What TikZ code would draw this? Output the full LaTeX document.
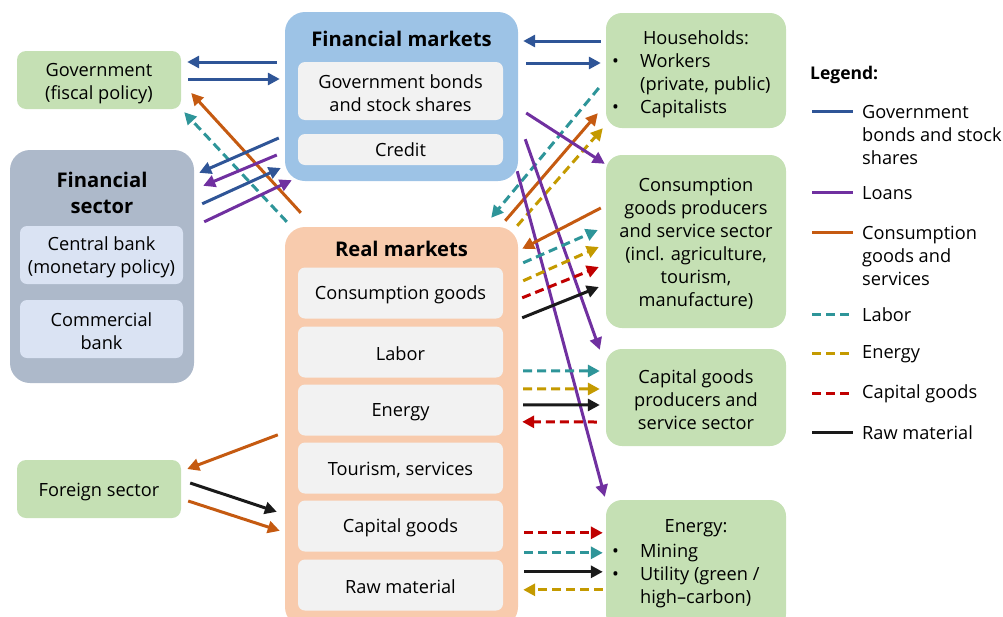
\documentclass[tikz,border=0pt]{standalone}
\usepackage{fontspec}
\setmainfont{Open Sans}
\usetikzlibrary{arrows.meta,calc}
\definecolor{cgreen}{HTML}{C5E0B4}
\definecolor{cblue}{HTML}{9DC3E6}
\definecolor{cgray}{HTML}{ADB9CA}
\definecolor{cpeach}{HTML}{F8CBAD}
\definecolor{cinner}{HTML}{F2F2F2}
\definecolor{cinnerb}{HTML}{DAE3F3}
\definecolor{lblue}{HTML}{2F5597}
\definecolor{lpurple}{HTML}{7030A0}
\definecolor{lorange}{HTML}{C55A11}
\definecolor{lteal}{HTML}{2E9599}
\definecolor{lgold}{HTML}{C49A00}
\definecolor{lred}{HTML}{C00000}
\definecolor{lblack}{HTML}{1A1A1A}
\newcommand{\txt}{\fontsize{18.2}{23}\selectfont}
\newcommand{\ttl}{\fontsize{20.2}{26}\selectfont\bfseries}
\tikzset{
  box/.style={rounded corners=9pt, inner sep=0pt, align=center, font=\txt},
  outer/.style={rounded corners=20pt, inner sep=0pt},
  greenbox/.style={box, fill=cgreen},
  innerbox/.style={box, fill=cinner, rounded corners=7pt, minimum width=205pt},
  innerfs/.style={box, fill=cinnerb, rounded corners=7pt, minimum width=163pt, minimum height=58pt},
  titlenode/.style={font=\ttl, align=center, inner sep=0pt},
  plain/.style={font=\txt, align=left, inner sep=0pt},
  flow/.style={line width=3pt, -{Triangle[length=12pt,width=12pt]}},
  dsh/.style={dash pattern=on 9pt off 5pt},
  bond/.style={flow, draw=lblue},
  loan/.style={flow, draw=lpurple},
  cons/.style={flow, draw=lorange},
  labor/.style={flow, draw=lteal, dsh},
  energy/.style={flow, draw=lgold, dsh},
  capg/.style={flow, draw=lred, dsh},
  raw/.style={flow, draw=lblack},
  legline/.style={line width=3pt},
}
\begin{document}
\begin{tikzpicture}[x=1pt,y=-1pt]
\useasboundingbox (0,0) rectangle (1003,616);
% Containers
\node[outer, fill=cblue, minimum width=233pt, minimum height=169pt] (fm) at (401.5,96.5) {};
\node[outer, fill=cgray, minimum width=184pt, minimum height=233pt] (fs) at (102,266.5) {};
\node[outer, fill=cpeach, minimum width=233pt, minimum height=400pt] (rm) at (401.5,427) {};
% Financial markets
\node[titlenode] (fmt) at (401.5,39) {Financial markets};
\node[innerbox, minimum height=58pt] (fmb) at (400.5,91) {};
\node[plain, align=center] (fmbt) at (400.5,93.5) {Government bonds\\and stock shares};
\node[innerbox, minimum height=31pt] (fmc) at (400.5,149.5) {Credit};
% Financial sector
\node[titlenode] (fst) at (102,193) {Financial\\sector};
\node[innerfs] (fscb) at (101.5,255) {};
\node[plain, align=center] (fscbt) at (101.5,257.5) {Central bank\\(monetary policy)};
\node[innerfs] (fscm) at (101.5,329) {};
\node[plain, align=center] (fscmt) at (101.5,331) {Commercial\\bank};
% Real markets
\node[titlenode] (rmt) at (401.5,249) {Real markets};
\node[innerbox, minimum height=51pt] (rm1) at (400.5,293) {};
\node[plain] (rm1t) at (400.5,295) {Consumption goods};
\node[innerbox, minimum height=51pt] (rm2) at (400.5,352) {};
\node[plain] (rm2t) at (400.5,353.5) {Labor};
\node[innerbox, minimum height=51pt] (rm3) at (400.5,410) {};
\node[plain] (rm3t) at (400.5,412) {Energy};
\node[innerbox, minimum height=51pt] (rm4) at (400.5,468) {};
\node[plain] (rm4t) at (400.5,470) {Tourism, services};
\node[innerbox, minimum height=51pt] (rm5) at (400.5,526) {};
\node[plain] (rm5t) at (400.5,528) {Capital goods};
\node[innerbox, minimum height=51pt] (rm6) at (400.5,585) {};
\node[plain] (rm6t) at (400.5,587) {Raw material};
% Green boxes
\node[greenbox, minimum width=164pt, minimum height=58pt] (gov) at (99,80) {};
\node[plain, align=center] (govt) at (99,83.5) {Government\\(fiscal policy)};
\node[greenbox, minimum width=164pt, minimum height=58pt] (fo) at (99,489) {};
\node[plain] (fot) at (99,492) {Foreign sector};
\node[greenbox, rounded corners=16pt, minimum width=180pt, minimum height=115pt] (hh) at (696,70.5) {};
\node[plain, align=center] (hht) at (696,38) {Households:};
\node[plain, anchor=west] (hhl) at (612,86) {\makebox[28pt][l]{•}Workers\\\hspace*{28pt}(private, public)\\\makebox[28pt][l]{•}Capitalists};
\node[greenbox, rounded corners=16pt, minimum width=180pt, minimum height=173pt] (cp) at (696,241.5) {};
\node[plain, align=center] (cpt) at (696,244) {Consumption\\goods producers\\and service sector\\(incl. agriculture,\\tourism,\\manufacture)};
\node[greenbox, rounded corners=16pt, minimum width=180pt, minimum height=97pt] (cap) at (696,397.5) {};
\node[plain, align=center] (capt) at (696,400) {Capital goods\\producers and\\service sector};
\node[greenbox, rounded corners=16pt, minimum width=180pt, minimum height=130pt] (en) at (696,565) {};
\node[plain, align=center] (ent) at (696,528) {Energy:};
\node[plain, anchor=west] (enl) at (612,576) {\makebox[28pt][l]{•}Mining\\\makebox[28pt][l]{•}Utility (green /\\\hspace*{28pt}high--carbon)};
% Government <-> Financial markets
\draw[bond] ([shift={(-8,-34.5)}]fm.west) -- ([shift={(6,-18)}]gov.east);
\draw[bond] ([shift={(7,-1)}]gov.east) -- ([shift={(-5,-17.5)}]fm.west);
\draw[cons] ([shift={(16,-14)}]rm.north west) -- ([shift={(10,13)}]gov.east);
\draw[labor] ([shift={(2,-5)}]rm.north west) -- ([shift={(3,3)}]gov.south east);
% Financial sector <-> Financial markets
\draw[bond] ([shift={(-6,41.5)}]fm.west) -- ([shift={(5,23)}]fs.north east);
\draw[loan] ([shift={(-8,58.5)}]fm.west) -- ([shift={(9,36)}]fs.north east);
\draw[bond] ([shift={(8,54)}]fs.north east) -- ([shift={(-4,71.5)}]fm.west);
\draw[loan] ([shift={(10,72)}]fs.north east) -- ([shift={(7,-1)}]fm.south west);
% Households
\draw[bond] ([shift={(-5,-29.5)}]hh.west) -- ([shift={(5,-55.5)}]fm.east);
\draw[bond] ([shift={(8,-33.5)}]fm.east) -- ([shift={(-5,-7.5)}]hh.west);
\draw[labor] ([shift={(-7,17.5)}]hh.west) -- ([shift={(-27,-9)}]rm.north east);
\draw[cons] ([shift={(-13,-6)}]rm.north east) -- ([shift={(-8,-15)}]hh.south west);
\draw[energy] ([shift={(-1,-1)}]rm.north east) -- ([shift={(-3,0)}]hh.south west);
% Loans from financial markets
\draw[loan] ([shift={(8,16.5)}]fm.east) -- ([shift={(-1,9)}]cp.north west);
\draw[loan] ([shift={(7,-42)}]fm.south east) -- ([shift={(-6,1)}]cap.north west);
\draw[loan] ([shift={(-1,-10)}]fm.south east) -- ([shift={(-1,-3)}]en.north west);
% Consumption goods producers
\draw[cons] ([shift={(-5,-33.5)}]cp.west) -- ([shift={(4,22)}]rm.north east);
\draw[labor] ([shift={(5,36)}]rm.north east) -- ([shift={(-8,-11.5)}]cp.west);
\draw[energy] ([shift={(5,54)}]rm.north east) -- ([shift={(-7,5.5)}]cp.west);
\draw[capg] ([shift={(4,71)}]rm.north east) -- ([shift={(-7,25.5)}]cp.west);
\draw[raw] ([shift={(4,91)}]rm.north east) -- ([shift={(-7,45.5)}]cp.west);
% Capital goods producers
\draw[labor] ([shift={(5,144)}]rm.north east) -- ([shift={(-6,-26.5)}]cap.west);
\draw[energy] ([shift={(5,162)}]rm.north east) -- ([shift={(-6,-8.5)}]cap.west);
\draw[raw] ([shift={(5,178)}]rm.north east) -- ([shift={(-6,7.5)}]cap.west);
\draw[capg] ([shift={(-9,24.5)}]cap.west) -- ([shift={(4,195)}]rm.north east);
% Energy sector
\draw[capg] ([shift={(6,306)}]rm.north east) -- ([shift={(-3,33)}]en.north west);
\draw[labor] ([shift={(6,326)}]rm.north east) -- ([shift={(-3,53)}]en.north west);
\draw[raw] ([shift={(6,345)}]rm.north east) -- ([shift={(-3,72)}]en.north west);
\draw[energy] ([shift={(-3,90)}]en.north west) -- ([shift={(5,363)}]rm.north east);
% Foreign sector
\draw[cons] ([shift={(-7,208)}]rm.north west) -- ([shift={(6,-20)}]fo.east);
\draw[raw] ([shift={(9,-6)}]fo.east) -- ([shift={(-8,285)}]rm.north west);
\draw[cons] ([shift={(7,12)}]fo.east) -- ([shift={(-5,304)}]rm.north west);
% Legend
\node[plain, font=\fontsize{17.5}{22}\selectfont\bfseries, anchor=west] (lgt) at (810,75) {Legend:};
\draw[legline, draw=lblue] (812,111) -- (853,111);
\node[plain, anchor=west] (lg1) at (862,135) {Government\\bonds and stock\\shares};
\draw[legline, draw=lpurple] (812,192) -- (853,192);
\node[plain, anchor=west] (lg2) at (862,193) {Loans};
\draw[legline, draw=lorange] (812,232) -- (853,232);
\node[plain, anchor=west] (lg3) at (862,256) {Consumption\\goods and\\services};
\draw[legline, draw=lteal, dsh] (812,314) -- (853,314);
\node[plain, anchor=west] (lg4) at (862,315) {Labor};
\draw[legline, draw=lgold, dsh] (812,353) -- (853,353);
\node[plain, anchor=west] (lg5) at (862,354) {Energy};
\draw[legline, draw=lred, dsh] (812,393) -- (853,393);
\node[plain, anchor=west] (lg6) at (862,394) {Capital goods};
\draw[legline, draw=lblack] (812,432) -- (853,432);
\node[plain, anchor=west] (lg7) at (862,433) {Raw material};
\end{tikzpicture}
\end{document}
